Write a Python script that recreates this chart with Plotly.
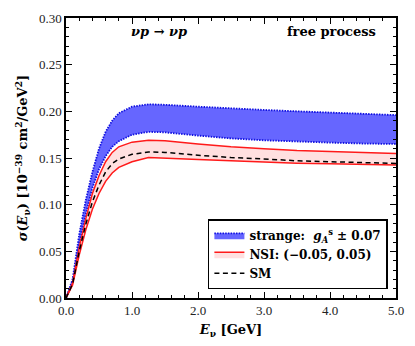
import plotly.graph_objects as go

E = [0, 0.1, 0.2, 0.3, 0.4, 0.5, 0.6, 0.7, 0.8, 1.0, 1.25, 1.5, 2.0, 2.5, 3.0, 3.5, 4.0, 4.5, 5.0]
strange_hi = [0, 0.020, 0.068, 0.105, 0.135, 0.160, 0.178, 0.190, 0.198, 0.205, 0.2075, 0.207, 0.205, 0.203, 0.2015, 0.200, 0.1985, 0.197, 0.196]
strange_lo = [0, 0.017, 0.057, 0.090, 0.118, 0.138, 0.152, 0.162, 0.168, 0.175, 0.178, 0.1775, 0.174, 0.171, 0.169, 0.1675, 0.1665, 0.1655, 0.165]
nsi_hi = [0, 0.016, 0.054, 0.085, 0.112, 0.131, 0.146, 0.156, 0.162, 0.167, 0.169, 0.1685, 0.165, 0.162, 0.160, 0.158, 0.157, 0.1555, 0.1547]
sm = [0, 0.015, 0.050, 0.079, 0.103, 0.121, 0.135, 0.144, 0.149, 0.154, 0.1565, 0.156, 0.153, 0.1505, 0.149, 0.147, 0.146, 0.145, 0.1442]
nsi_lo = [0, 0.014, 0.046, 0.073, 0.095, 0.112, 0.125, 0.134, 0.140, 0.146, 0.1505, 0.150, 0.1484, 0.147, 0.1455, 0.1445, 0.1438, 0.143, 0.1425]

x_ticks = [0, 1, 2, 3, 4, 5]
x_ticklabels = ["0.0", "1.0", "2.0", "3.0", "4.0", "5.0"]
y_ticks = [0, 0.05, 0.10, 0.15, 0.20, 0.25, 0.30]
y_ticklabels = ["0.00", "0.05", "0.10", "0.15", "0.20", "0.25", "0.30"]

TICKFONT = "Liberation Serif"
BOLDFONT = "DejaVu Serif"
fig = go.Figure()

BLUE_DOT = dict(color="#1010e0", width=1.8, dash="1.5px,1.2px")
fig.add_trace(go.Scatter(x=E, y=strange_lo, mode="lines", line=BLUE_DOT,
                         showlegend=False, hoverinfo="skip"))
fig.add_trace(go.Scatter(x=E, y=strange_hi, mode="lines", fill="tonexty", fillcolor="#6666ff",
                         line=BLUE_DOT,
                         name="<b>strange:  <i>g</i><sub><i>A</i></sub><sup>s</sup> ± 0.07</b>"))
fig.add_trace(go.Scatter(x=E, y=nsi_lo, mode="lines", line=dict(color="#ff1a1a", width=1.5),
                         showlegend=False, hoverinfo="skip"))
fig.add_trace(go.Scatter(x=E, y=nsi_hi, mode="lines", fill="tonexty", fillcolor="#ffe0e0",
                         line=dict(color="#ff1a1a", width=1.5),
                         name="<b>NSI: (−0.05, 0.05)</b>"))
fig.add_trace(go.Scatter(x=E, y=sm, mode="lines", line=dict(color="black", width=1.5, dash="5px,3.5px"),
                         name="<b>SM</b>"))

axis_common = dict(showline=True, linecolor="black", linewidth=1.5, mirror="allticks",
                   ticks="inside", ticklen=6, tickwidth=1, tickcolor="black",
                   showgrid=False, zeroline=False,
                   tickfont=dict(family=TICKFONT, size=13, color="#222"))

fig.update_xaxes(range=[0, 5], tickvals=x_ticks, ticktext=x_ticklabels,
                 minor=dict(dtick=0.2, ticklen=3, ticks="inside", tickcolor="black", tickwidth=1),
                 title=dict(text="<b><i>E</i><sub>ν</sub> [GeV]</b>",
                            font=dict(family=BOLDFONT, size=13, color="black"), standoff=8),
                 **axis_common)
fig.update_yaxes(range=[0, 0.30], tickvals=y_ticks, ticktext=y_ticklabels,
                 minor=dict(dtick=0.01, ticklen=3, ticks="inside", tickcolor="black", tickwidth=1),
                 title=dict(text="<b><i>σ</i>(<i>E</i><sub>ν</sub>) [10<sup>−39</sup> cm<sup>2</sup>/GeV<sup>2</sup>]</b>",
                            font=dict(family=BOLDFONT, size=13, color="black"), standoff=8),
                 **axis_common)

fig.add_annotation(x=0.192, y=0.951, xref="paper", yref="paper", xanchor="left", yanchor="middle",
                   showarrow=False, text="<b><i>νp</i> → <i>νp</i></b>",
                   font=dict(family=BOLDFONT, size=13, color="black"))
fig.add_annotation(x=0.664, y=0.951, xref="paper", yref="paper", xanchor="left", yanchor="middle",
                   showarrow=False, text="<b>free process</b>",
                   font=dict(family=BOLDFONT, size=13, color="black"))

fig.update_layout(
    width=415, height=346,
    margin=dict(l=66, r=16, t=11, b=48),
    paper_bgcolor="white", plot_bgcolor="white",
    legend=dict(x=0.43, y=0.031, xanchor="left", yanchor="bottom", bgcolor="white",
                bordercolor="black", borderwidth=1.5, font=dict(family=BOLDFONT, size=12, color="black"),
                tracegroupgap=0, itemwidth=30, traceorder="normal"),
)

fig.write_html("out.html", config={"displayModeBar": False},
               post_script="document.body.style.margin='0';")
